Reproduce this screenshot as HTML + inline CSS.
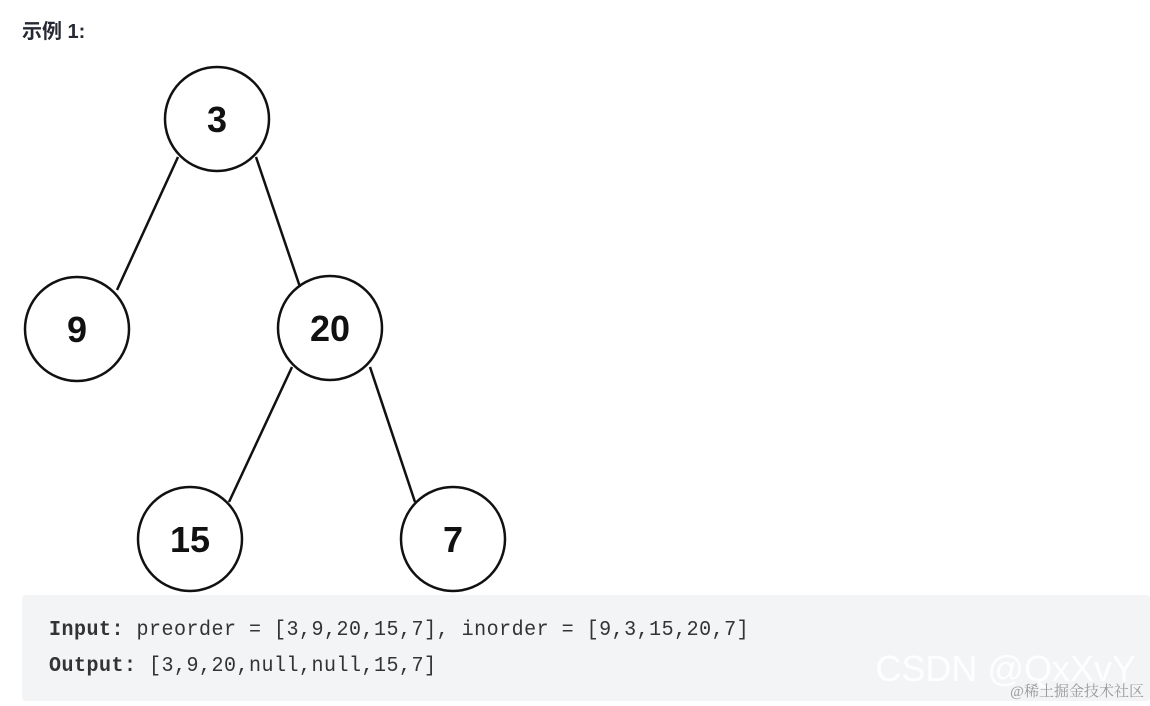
<!DOCTYPE html>
<html><head><meta charset="utf-8"><style>
body{margin:0;width:1150px;height:706px;background:#fff;position:relative;overflow:hidden;font-family:"Liberation Sans","Noto Sans CJK SC",sans-serif}
.h{position:absolute;left:22px;top:15px;font-size:20px;font-weight:bold;color:#252933}
.code{position:absolute;left:22px;top:595px;width:1128px;height:106px;background:#f3f4f5;border-radius:4px}
.l{position:absolute;left:27px;font-family:"Liberation Mono","DejaVu Sans Mono",monospace;font-size:20px;color:#333;letter-spacing:0.5px;transform:scaleY(1.05);transform-origin:left top}
.wm{position:absolute;right:14px;top:648px;font-size:36px;color:rgba(255,255,255,0.9);font-family:"Liberation Sans",sans-serif}
.wm2{position:absolute;right:6px;top:680px;font-size:15px;color:#999;font-family:"Liberation Serif","Noto Serif CJK SC",serif}
</style></head><body>
<div class="h">示例 1:</div>
<svg width="510" height="595" style="position:absolute;left:0;top:0" font-family="Liberation Sans, Arial, sans-serif" font-weight="bold" font-size="36" text-anchor="middle">
<g stroke="#111" stroke-width="2.5" fill="none">
<line x1="178" y1="157" x2="117" y2="290"/>
<line x1="256" y1="157" x2="300" y2="287"/>
<line x1="292" y1="367" x2="229" y2="502"/>
<line x1="370" y1="367" x2="415" y2="502"/>
<circle cx="217" cy="119" r="52"/>
<circle cx="77" cy="329" r="52"/>
<circle cx="330" cy="328" r="52"/>
<circle cx="190" cy="539" r="52"/>
<circle cx="453" cy="539" r="52"/>
</g>
<g fill="#111">
<text x="217" y="132">3</text>
<text x="77" y="342">9</text>
<text x="330" y="341">20</text>
<text x="190" y="552">15</text>
<text x="453" y="552">7</text>
</g>
</svg>
<div class="code">
<div class="l" style="top:23px"><b>Input:</b> preorder = [3,9,20,15,7], inorder = [9,3,15,20,7]</div>
<div class="l" style="top:59px"><b>Output:</b> [3,9,20,null,null,15,7]</div>
</div>
<div class="wm">CSDN @QxXvY</div>
<div class="wm2">@稀土掘金技术社区</div>
</body></html>
